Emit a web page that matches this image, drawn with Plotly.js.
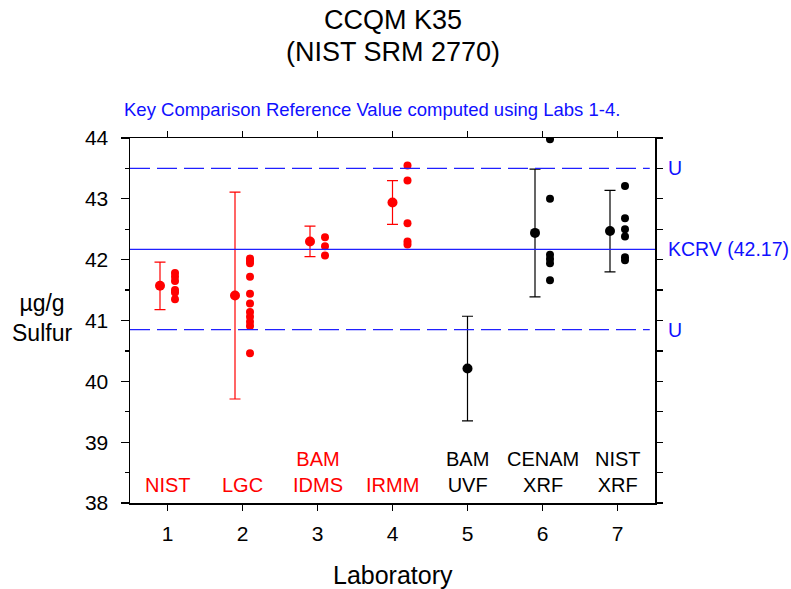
<!DOCTYPE html>
<html>
<head>
<meta charset="utf-8">
<script src="https://cdn.plot.ly/plotly-3.0.1.min.js"></script>
<style>html,body{margin:0;padding:0;background:#fff;}#chart{width:791px;height:589px;}</style>
</head>
<body>
<div id="chart"></div>
<script>
// ---- data ----
const labs = [1, 2, 3, 4, 5, 6, 7];
const labNames = ['NIST', 'LGC', 'BAM<br>IDMS', 'IRMM', 'BAM<br>UVF', 'CENAM<br>XRF', 'NIST<br>XRF'];
const labMeans = [41.57, 41.41, 42.30, 42.94, 40.21, 42.44, 42.47];
const labUnc = [0.39, 1.70, 0.25, 0.36, 0.86, 1.05, 0.67];
const lab1Results = [41.78, 41.72, 41.65, 41.50, 41.46, 41.35];
const lab2Results = [42.02, 41.98, 41.94, 41.72, 41.44, 41.28, 41.14, 41.06, 40.98, 40.91, 40.46];
const lab3Results = [42.37, 42.22, 42.07];
const lab4Results = [43.55, 43.30, 42.60, 42.30, 42.25];
const lab5Results = [];
const lab6Results = [43.98, 43.00, 42.08, 42.01, 41.94, 41.66];
const lab7Results = [43.21, 42.68, 42.50, 42.38, 42.04, 41.99];
const kcrv = 42.17;
const uUpper = 43.50;
const uLower = 40.85;
const yTickVals = [38, 39, 40, 41, 42, 43, 44];

// ---- styling / placement (not data) ----
const results = [lab1Results, lab2Results, lab3Results, lab4Results, lab5Results, lab6Results, lab7Results];
const meanShift = [-0.1, -0.1, -0.1, 0, 0, -0.1, -0.1];
const resShift = [0.1, 0.1, 0.1, 0.2, 0.1, 0.1, 0.1];
const labColor = ['#ff0000', '#ff0000', '#ff0000', '#ff0000', '#000000', '#000000', '#000000'];
const FONT = 'Liberation Sans, Arial, sans-serif';

const traces = [];
labs.forEach((lab, i) => {
  traces.push({
    type: 'scatter', mode: 'markers',
    x: [lab + meanShift[i]], y: [labMeans[i]],
    marker: {color: labColor[i], size: 10},
    error_y: {type: 'data', array: [labUnc[i]], visible: true, color: labColor[i], thickness: 1.2, width: 5.5},
    showlegend: false, hoverinfo: 'x+y'
  });
  if (results[i].length) {
    traces.push({
      type: 'scatter', mode: 'markers',
      x: results[i].map(() => lab + resShift[i]), y: results[i],
      marker: {color: labColor[i], size: 8},
      showlegend: false, hoverinfo: 'y'
    });
  }
});
// empty trace to register the right-hand overlay axis
traces.push({type: 'scatter', x: [], y: [], xaxis: 'x', yaxis: 'y2', showlegend: false, hoverinfo: 'skip'});

const annotations = [];
labs.forEach((lab, i) => {
  annotations.push({
    x: lab, y: 38.09, xref: 'x', yref: 'y', xanchor: 'center', yanchor: 'bottom',
    text: labNames[i], showarrow: false,
    font: {family: FONT, size: 20, color: labColor[i]}
  });
});
annotations.push(
  {x: 0.5, y: 1.323, xref: 'paper', yref: 'paper', text: 'CCQM K35', showarrow: false,
   xanchor: 'center', yanchor: 'middle', font: {family: FONT, size: 27, color: '#000'}},
  {x: 0.5, y: 1.236, xref: 'paper', yref: 'paper', text: '(NIST SRM 2770)', showarrow: false,
   xanchor: 'center', yanchor: 'middle', font: {family: FONT, size: 27, color: '#000'}},
  {x: 0.46, y: 1.077, xref: 'paper', yref: 'paper', text: 'Key Comparison Reference Value computed using Labs 1-4.', showarrow: false,
   xanchor: 'center', yanchor: 'middle', font: {family: FONT, size: 18.5, color: '#1010ff'}},
  {x: -0.167, y: 0.507, xref: 'paper', yref: 'paper', text: 'µg/g<br>Sulfur', showarrow: false,
   xanchor: 'center', yanchor: 'middle', align: 'center', font: {family: FONT, size: 23, color: '#000'}},
  {x: 0.5, y: -0.197, xref: 'paper', yref: 'paper', text: 'Laboratory', showarrow: false,
   xanchor: 'center', yanchor: 'middle', font: {family: FONT, size: 25, color: '#000'}},
  {x: 1.02, y: uUpper, xref: 'paper', yref: 'y', text: 'U', showarrow: false,
   xanchor: 'left', yanchor: 'middle', font: {family: FONT, size: 19.5, color: '#1010ff'}},
  {x: 1.02, y: kcrv, xref: 'paper', yref: 'y', text: 'KCRV (' + kcrv.toFixed(2) + ')', showarrow: false,
   xanchor: 'left', yanchor: 'middle', font: {family: FONT, size: 19.5, color: '#1010ff'}},
  {x: 1.02, y: uLower, xref: 'paper', yref: 'y', text: 'U', showarrow: false,
   xanchor: 'left', yanchor: 'middle', font: {family: FONT, size: 19.5, color: '#1010ff'}}
);

const shapes = [
  {type: 'line', xref: 'paper', yref: 'y', x0: 0, x1: 1, y0: kcrv, y1: kcrv, line: {color: '#2020ff', width: 1.2}},
  {type: 'line', xref: 'paper', yref: 'y', x0: 0, x1: 0.99, y0: uUpper, y1: uUpper, line: {color: '#2020ff', width: 1.2, dash: '20px,7px'}},
  {type: 'line', xref: 'paper', yref: 'y', x0: 0, x1: 0.99, y0: uLower, y1: uLower, line: {color: '#2020ff', width: 1.2, dash: '20px,7px'}}
];

const layout = {
  width: 791, height: 589,
  margin: {l: 130, r: 136, t: 138, b: 86},
  paper_bgcolor: '#fff', plot_bgcolor: '#fff',
  font: {family: FONT, color: '#000'},
  showlegend: false,
  xaxis: {
    range: [0.5, 7.5], tickvals: labs, ticktext: labs.map(String),
    ticks: 'outside', ticklen: 6, tickwidth: 1.2, tickcolor: '#000',
    showline: true, linecolor: '#000', linewidth: 1.5, mirror: 'ticks',
    showgrid: false, zeroline: false,
    tickfont: {family: FONT, size: 21, color: '#000'}, ticklabelstandoff: 5
  },
  yaxis: {
    range: [38, 44], tickvals: yTickVals, ticktext: yTickVals.map(String),
    ticks: 'outside', ticklen: 8, tickwidth: 1.2, tickcolor: '#000',
    minor: {dtick: 0.5, ticks: 'outside', ticklen: 4, tickcolor: '#000', showgrid: false},
    showline: true, linecolor: '#000', linewidth: 1.5,
    showgrid: false, zeroline: false,
    tickfont: {family: FONT, size: 21, color: '#000'}, ticklabelstandoff: 8
  },
  yaxis2: {
    overlaying: 'y', side: 'right', anchor: 'x', range: [38, 44], matches: 'y',
    dtick: 0.5, tick0: 38, ticks: 'outside', ticklen: 6, tickwidth: 1.2, tickcolor: '#000',
    showticklabels: false, showline: true, linecolor: '#000', linewidth: 1.5,
    showgrid: false, zeroline: false
  },
  shapes: shapes,
  annotations: annotations
};

Plotly.newPlot('chart', traces, layout, {displayModeBar: false, staticPlot: true});
</script>
</body>
</html>
